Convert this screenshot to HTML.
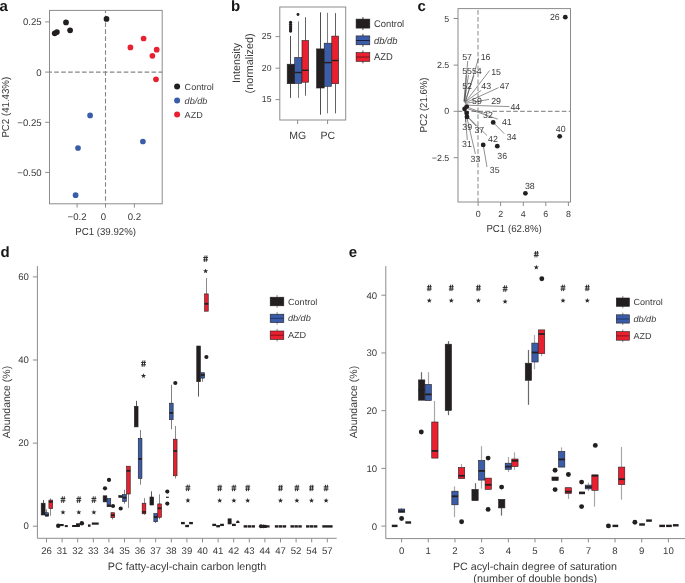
<!DOCTYPE html>
<html><head><meta charset="utf-8"><title>Figure</title>
<style>
html,body{margin:0;padding:0;background:#fff;}
body{width:685px;height:583px;overflow:hidden;}
svg{display:block;font-family:"Liberation Sans",sans-serif;will-change:transform;text-rendering:geometricPrecision;}
</style></head><body>
<svg width="685" height="583" viewBox="0 0 685 583">
<rect width="685" height="583" fill="#fff"/>
<text x="-0.6" y="10.8" font-size="15" text-anchor="start" fill="#161616" font-weight="bold">a</text>
<rect x="49.5" y="10.4" width="112.7" height="193.4" fill="none" stroke="#8c8c8c" stroke-width="1"/>
<line x1="105.5" y1="10.4" x2="105.5" y2="203.8" stroke="#858585" stroke-width="1.1" stroke-dasharray="4.6,2.35" stroke-dashoffset="1.88"/>
<line x1="49.5" y1="72.1" x2="162.2" y2="72.1" stroke="#858585" stroke-width="1.1" stroke-dasharray="4.6,2.35" stroke-dashoffset="2.2"/>
<line x1="45.2" y1="21.9" x2="49.5" y2="21.9" stroke="#8c8c8c" stroke-width="1"/>
<text x="41.6" y="25.3" font-size="9.6" text-anchor="end" fill="#3a3a3a">0.25</text>
<line x1="45.2" y1="72.1" x2="49.5" y2="72.1" stroke="#8c8c8c" stroke-width="1"/>
<text x="41.6" y="75.5" font-size="9.6" text-anchor="end" fill="#3a3a3a">0</text>
<line x1="45.2" y1="122.3" x2="49.5" y2="122.3" stroke="#8c8c8c" stroke-width="1"/>
<text x="41.6" y="125.7" font-size="9.6" text-anchor="end" fill="#3a3a3a">−0.25</text>
<line x1="45.2" y1="172.4" x2="49.5" y2="172.4" stroke="#8c8c8c" stroke-width="1"/>
<text x="41.6" y="175.8" font-size="9.6" text-anchor="end" fill="#3a3a3a">−0.50</text>
<line x1="77.1" y1="203.8" x2="77.1" y2="207.6" stroke="#8c8c8c" stroke-width="1"/>
<text x="77.1" y="220.1" font-size="9.6" text-anchor="middle" fill="#3a3a3a">−0.2</text>
<line x1="105.5" y1="203.8" x2="105.5" y2="207.6" stroke="#8c8c8c" stroke-width="1"/>
<text x="103.5" y="220.1" font-size="9.6" text-anchor="middle" fill="#3a3a3a">0</text>
<line x1="134.4" y1="203.8" x2="134.4" y2="207.6" stroke="#8c8c8c" stroke-width="1"/>
<text x="134.4" y="220.1" font-size="9.6" text-anchor="middle" fill="#3a3a3a">0.2</text>
<text x="0" y="0" font-size="10.2" text-anchor="middle" fill="#3a3a3a" transform="translate(105.6 235) scale(0.95 1)">PC1 (39.92%)</text>
<text x="0" y="0" font-size="10.2" text-anchor="middle" fill="#3a3a3a" transform="translate(8.6 107.2) rotate(-90) scale(0.95 1)">PC2 (41.43%)</text>
<circle cx="54.7" cy="33.3" r="2.85" fill="#231f20"/>
<circle cx="56.9" cy="32.1" r="2.85" fill="#231f20"/>
<circle cx="66" cy="22.4" r="2.85" fill="#231f20"/>
<circle cx="70.1" cy="30.3" r="2.85" fill="#231f20"/>
<circle cx="106.5" cy="18.9" r="2.85" fill="#231f20"/>
<circle cx="130.4" cy="47.4" r="2.85" fill="#e8202f"/>
<circle cx="143.6" cy="38.5" r="2.85" fill="#e8202f"/>
<circle cx="156.7" cy="49.7" r="2.85" fill="#e8202f"/>
<circle cx="152.4" cy="55.8" r="2.85" fill="#e8202f"/>
<circle cx="156" cy="79.3" r="2.85" fill="#e8202f"/>
<circle cx="90.1" cy="115.4" r="2.85" fill="#3b5ca8"/>
<circle cx="78" cy="148" r="2.85" fill="#3b5ca8"/>
<circle cx="75.6" cy="195.2" r="2.85" fill="#3b5ca8"/>
<circle cx="142.9" cy="141.5" r="2.85" fill="#3b5ca8"/>
<circle cx="177.1" cy="86.4" r="3" fill="#231f20"/>
<text x="0" y="0" font-size="8.9" text-anchor="start" fill="#3a3a3a" transform="translate(184.6 89.5) scale(1.02 1)">Control</text>
<circle cx="177.1" cy="100.5" r="3" fill="#3b5ca8"/>
<text x="0" y="0" font-size="8.9" text-anchor="start" fill="#3a3a3a" font-style="italic" transform="translate(184.6 103.6) scale(1.02 1)">db/db</text>
<circle cx="177.1" cy="114.6" r="3" fill="#e8202f"/>
<text x="0" y="0" font-size="8.9" text-anchor="start" fill="#3a3a3a" transform="translate(184.6 117.7) scale(1.02 1)">AZD</text>
<text x="231" y="10.8" font-size="15" text-anchor="start" fill="#161616" font-weight="bold">b</text>
<rect x="279.8" y="7" width="65.9" height="113" fill="none" stroke="#8c8c8c" stroke-width="1"/>
<line x1="275.6" y1="36.6" x2="279.8" y2="36.6" stroke="#8c8c8c" stroke-width="1"/>
<text x="271.5" y="39.2" font-size="8.7" text-anchor="end" fill="#3a3a3a">25</text>
<line x1="275.6" y1="68.2" x2="279.8" y2="68.2" stroke="#8c8c8c" stroke-width="1"/>
<text x="271.5" y="70.8" font-size="8.7" text-anchor="end" fill="#3a3a3a">20</text>
<line x1="275.6" y1="99.6" x2="279.8" y2="99.6" stroke="#8c8c8c" stroke-width="1"/>
<text x="271.5" y="102.2" font-size="8.7" text-anchor="end" fill="#3a3a3a">15</text>
<line x1="297.6" y1="120" x2="297.6" y2="124" stroke="#8c8c8c" stroke-width="1"/>
<text x="297.8" y="138.7" font-size="10.5" text-anchor="middle" fill="#3a3a3a">MG</text>
<line x1="327.6" y1="120" x2="327.6" y2="124" stroke="#8c8c8c" stroke-width="1"/>
<text x="327.8" y="138.7" font-size="10.5" text-anchor="middle" fill="#3a3a3a">PC</text>
<text x="240.4" y="63" font-size="10.8" text-anchor="middle" fill="#3a3a3a" transform="rotate(-90 240.4 63)">Intensity</text>
<text x="252.8" y="63.4" font-size="10.8" text-anchor="middle" fill="#3a3a3a" transform="rotate(-90 252.8 63.4)">(normalized)</text>
<line x1="290.5" y1="35.9" x2="290.5" y2="64.2" stroke="#3a3a3a" stroke-width="0.9"/>
<line x1="290.5" y1="83.7" x2="290.5" y2="97.9" stroke="#3a3a3a" stroke-width="0.9"/>
<rect x="287.2" y="64.2" width="7.6" height="19.5" fill="#231f20" stroke="#231f20" stroke-width="0.6"/>
<circle cx="290.6" cy="22.4" r="1.65" fill="#231f20"/>
<circle cx="290.6" cy="24.6" r="1.65" fill="#231f20"/>
<circle cx="290.6" cy="26.8" r="1.65" fill="#231f20"/>
<circle cx="290.6" cy="29" r="1.65" fill="#231f20"/>
<circle cx="290.6" cy="31" r="1.65" fill="#231f20"/>
<line x1="298.5" y1="21.4" x2="298.5" y2="57.4" stroke="#6e6e6e" stroke-width="0.9"/>
<line x1="298.5" y1="83.4" x2="298.5" y2="97.9" stroke="#6e6e6e" stroke-width="0.9"/>
<rect x="294.7" y="57.4" width="7" height="26" fill="#3b5ca8" stroke="#231f20" stroke-width="0.6"/>
<line x1="294.7" y1="72.5" x2="301.7" y2="72.5" stroke="#231f20" stroke-width="1.4"/>
<circle cx="298" cy="14.5" r="1.45" fill="#231f20"/>
<line x1="305.5" y1="17.2" x2="305.5" y2="40.5" stroke="#505050" stroke-width="0.9"/>
<line x1="305.5" y1="82.2" x2="305.5" y2="95.7" stroke="#505050" stroke-width="0.9"/>
<rect x="302" y="40.5" width="6.6" height="41.7" fill="#e8202f" stroke="#231f20" stroke-width="0.6"/>
<line x1="302" y1="70.3" x2="308.6" y2="70.3" stroke="#231f20" stroke-width="1.4"/>
<line x1="320.5" y1="12.3" x2="320.5" y2="48.9" stroke="#3a3a3a" stroke-width="0.9"/>
<line x1="320.5" y1="88" x2="320.5" y2="114.7" stroke="#3a3a3a" stroke-width="0.9"/>
<rect x="316.6" y="48.9" width="7.6" height="39.1" fill="#231f20" stroke="#231f20" stroke-width="0.6"/>
<line x1="327.5" y1="12.8" x2="327.5" y2="43.2" stroke="#6e6e6e" stroke-width="0.9"/>
<line x1="327.5" y1="86.3" x2="327.5" y2="113.4" stroke="#6e6e6e" stroke-width="0.9"/>
<rect x="324.2" y="43.2" width="7.2" height="43.1" fill="#3b5ca8" stroke="#231f20" stroke-width="0.6"/>
<line x1="324.2" y1="62.6" x2="331.4" y2="62.6" stroke="#231f20" stroke-width="1.4"/>
<line x1="335.5" y1="13.1" x2="335.5" y2="36.1" stroke="#505050" stroke-width="0.9"/>
<line x1="335.5" y1="83.7" x2="335.5" y2="113.4" stroke="#505050" stroke-width="0.9"/>
<rect x="331.8" y="36.1" width="6.8" height="47.6" fill="#e8202f" stroke="#231f20" stroke-width="0.6"/>
<line x1="331.8" y1="60.5" x2="338.6" y2="60.5" stroke="#231f20" stroke-width="1.4"/>
<line x1="362.9" y1="17" x2="362.9" y2="30" stroke="#333" stroke-width="0.9"/>
<rect x="356.1" y="19.1" width="13.7" height="9" fill="#231f20" stroke="#231f20" stroke-width="0.6"/>
<text x="0" y="0" font-size="9.7" text-anchor="start" fill="#3a3a3a" transform="translate(373.9 27) scale(0.97 1)">Control</text>
<line x1="362.9" y1="33.8" x2="362.9" y2="46.7" stroke="#333" stroke-width="0.9"/>
<rect x="356.1" y="35.9" width="13.7" height="8.9" fill="#3b5ca8" stroke="#231f20" stroke-width="0.6"/>
<line x1="356.1" y1="40.5" x2="369.8" y2="40.5" stroke="#17213d" stroke-width="1"/>
<text x="0" y="0" font-size="9.7" text-anchor="start" fill="#3a3a3a" font-style="italic" transform="translate(373.9 43.75) scale(0.97 1)">db/db</text>
<line x1="362.9" y1="50.5" x2="362.9" y2="63.3" stroke="#333" stroke-width="0.9"/>
<rect x="356.1" y="52.6" width="13.7" height="8.8" fill="#e8202f" stroke="#231f20" stroke-width="0.6"/>
<line x1="356.1" y1="57" x2="369.8" y2="57" stroke="#74141c" stroke-width="1"/>
<text x="0" y="0" font-size="9.7" text-anchor="start" fill="#3a3a3a" transform="translate(373.9 60.4) scale(0.97 1)">AZD</text>
<text x="417.6" y="10.9" font-size="15" text-anchor="start" fill="#161616" font-weight="bold">c</text>
<rect x="458" y="8.6" width="112.5" height="193.4" fill="none" stroke="#8c8c8c" stroke-width="1"/>
<line x1="478" y1="8.6" x2="478" y2="202" stroke="#939393" stroke-width="1.1" stroke-dasharray="4.6,2.35" stroke-dashoffset="5.45"/>
<line x1="458" y1="111.4" x2="570.5" y2="111.4" stroke="#939393" stroke-width="1.1" stroke-dasharray="4.6,2.35" stroke-dashoffset="0.4"/>
<line x1="453.6" y1="18.5" x2="458" y2="18.5" stroke="#8c8c8c" stroke-width="1"/>
<text x="449.3" y="21.5" font-size="8.9" text-anchor="end" fill="#3a3a3a">5</text>
<line x1="453.6" y1="65.1" x2="458" y2="65.1" stroke="#8c8c8c" stroke-width="1"/>
<text x="449.3" y="68.1" font-size="8.9" text-anchor="end" fill="#3a3a3a">2.5</text>
<line x1="453.6" y1="111.3" x2="458" y2="111.3" stroke="#8c8c8c" stroke-width="1"/>
<text x="449.3" y="114.3" font-size="8.9" text-anchor="end" fill="#3a3a3a">0</text>
<line x1="453.6" y1="157.7" x2="458" y2="157.7" stroke="#8c8c8c" stroke-width="1"/>
<text x="449.3" y="160.7" font-size="8.9" text-anchor="end" fill="#3a3a3a">−2.5</text>
<line x1="478.1" y1="202" x2="478.1" y2="206" stroke="#8c8c8c" stroke-width="1"/>
<text x="478.1" y="216.8" font-size="8.9" text-anchor="middle" fill="#3a3a3a">0</text>
<line x1="500.6" y1="202" x2="500.6" y2="206" stroke="#8c8c8c" stroke-width="1"/>
<text x="500.6" y="216.8" font-size="8.9" text-anchor="middle" fill="#3a3a3a">2</text>
<line x1="523.3" y1="202" x2="523.3" y2="206" stroke="#8c8c8c" stroke-width="1"/>
<text x="523.3" y="216.8" font-size="8.9" text-anchor="middle" fill="#3a3a3a">4</text>
<line x1="545.8" y1="202" x2="545.8" y2="206" stroke="#8c8c8c" stroke-width="1"/>
<text x="545.8" y="216.8" font-size="8.9" text-anchor="middle" fill="#3a3a3a">6</text>
<line x1="568.4" y1="202" x2="568.4" y2="206" stroke="#8c8c8c" stroke-width="1"/>
<text x="568.4" y="216.8" font-size="8.9" text-anchor="middle" fill="#3a3a3a">8</text>
<text x="0" y="0" font-size="10.2" text-anchor="middle" fill="#3a3a3a" transform="translate(514.1 232.3) scale(0.95 1)">PC1 (62.8%)</text>
<text x="0" y="0" font-size="10.2" text-anchor="middle" fill="#3a3a3a" transform="translate(426.9 105) rotate(-90) scale(0.94 1)">PC2 (21.6%)</text>
<line x1="467.7" y1="61" x2="464.6" y2="101.5" stroke="#444" stroke-width="0.6"/>
<line x1="478.6" y1="58" x2="465.6" y2="101.5" stroke="#444" stroke-width="0.6"/>
<line x1="466" y1="75" x2="464" y2="101.5" stroke="#444" stroke-width="0.6"/>
<line x1="468.5" y1="75" x2="464.5" y2="101.5" stroke="#444" stroke-width="0.6"/>
<line x1="474" y1="75.5" x2="465" y2="101.5" stroke="#444" stroke-width="0.6"/>
<line x1="489.6" y1="70.5" x2="465" y2="102.5" stroke="#444" stroke-width="0.6"/>
<line x1="466" y1="90" x2="464" y2="101.5" stroke="#444" stroke-width="0.6"/>
<line x1="481" y1="90.5" x2="464.5" y2="102.5" stroke="#444" stroke-width="0.6"/>
<line x1="498.6" y1="87.6" x2="465" y2="103" stroke="#444" stroke-width="0.6"/>
<line x1="489" y1="99.4" x2="465" y2="103.5" stroke="#444" stroke-width="0.6"/>
<line x1="509.5" y1="106.6" x2="466.5" y2="105.2" stroke="#444" stroke-width="0.6"/>
<line x1="483" y1="113" x2="467" y2="107" stroke="#444" stroke-width="0.6"/>
<line x1="497.8" y1="119.2" x2="467" y2="108.5" stroke="#444" stroke-width="0.6"/>
<line x1="465.8" y1="122" x2="465" y2="111" stroke="#444" stroke-width="0.6"/>
<line x1="476" y1="126" x2="467.5" y2="117" stroke="#444" stroke-width="0.6"/>
<line x1="487" y1="135.5" x2="467.5" y2="116.5" stroke="#444" stroke-width="0.6"/>
<line x1="467.3" y1="140" x2="465.5" y2="118" stroke="#444" stroke-width="0.6"/>
<line x1="475.4" y1="154" x2="467" y2="118" stroke="#444" stroke-width="0.6"/>
<line x1="504.2" y1="133.6" x2="493.2" y2="122.4" stroke="#444" stroke-width="0.6"/>
<line x1="487" y1="167" x2="483.2" y2="144.9" stroke="#444" stroke-width="0.6"/>
<circle cx="565.3" cy="17.2" r="2.4" fill="#231f20"/>
<circle cx="559.7" cy="136.3" r="2.4" fill="#231f20"/>
<circle cx="525.4" cy="193.3" r="2.4" fill="#231f20"/>
<circle cx="493.2" cy="122.4" r="2.4" fill="#231f20"/>
<circle cx="483.2" cy="144.9" r="2.4" fill="#231f20"/>
<circle cx="497.3" cy="146.2" r="2.4" fill="#231f20"/>
<circle cx="466.7" cy="106.6" r="2.4" fill="#231f20"/>
<circle cx="464.6" cy="109" r="2.4" fill="#231f20"/>
<circle cx="466.7" cy="113.1" r="2.4" fill="#231f20"/>
<circle cx="467" cy="116.9" r="2.4" fill="#231f20"/>
<text x="462.2" y="59.7" font-size="8.8" text-anchor="start" fill="#3a3a3a">57</text>
<text x="480.7" y="59.7" font-size="8.8" text-anchor="start" fill="#3a3a3a">16</text>
<text x="462.2" y="74.1" font-size="8.8" text-anchor="start" fill="#3a3a3a">5554</text>
<text x="491.2" y="74.5" font-size="8.8" text-anchor="start" fill="#3a3a3a">15</text>
<text x="462.2" y="89.2" font-size="8.8" text-anchor="start" fill="#3a3a3a">52</text>
<text x="481.3" y="89.2" font-size="8.8" text-anchor="start" fill="#3a3a3a">43</text>
<text x="499.7" y="89.2" font-size="8.8" text-anchor="start" fill="#3a3a3a">47</text>
<text x="472" y="104" font-size="8.8" text-anchor="start" fill="#3a3a3a">59</text>
<text x="491.2" y="104" font-size="8.8" text-anchor="start" fill="#3a3a3a">29</text>
<text x="510.4" y="110.2" font-size="8.8" text-anchor="start" fill="#3a3a3a">44</text>
<text x="483" y="118.4" font-size="8.8" text-anchor="start" fill="#3a3a3a">32</text>
<text x="501.9" y="124.6" font-size="8.8" text-anchor="start" fill="#3a3a3a">41</text>
<text x="462.3" y="130" font-size="8.8" text-anchor="start" fill="#3a3a3a">39</text>
<text x="474.4" y="132.7" font-size="8.8" text-anchor="start" fill="#3a3a3a">37</text>
<text x="488.1" y="142" font-size="8.8" text-anchor="start" fill="#3a3a3a">42</text>
<text x="506.7" y="139.6" font-size="8.8" text-anchor="start" fill="#3a3a3a">34</text>
<text x="462.1" y="147.4" font-size="8.8" text-anchor="start" fill="#3a3a3a">31</text>
<text x="497.3" y="158.8" font-size="8.8" text-anchor="start" fill="#3a3a3a">36</text>
<text x="470.6" y="162.2" font-size="8.8" text-anchor="start" fill="#3a3a3a">33</text>
<text x="489.8" y="173.2" font-size="8.8" text-anchor="start" fill="#3a3a3a">35</text>
<text x="549.9" y="20.4" font-size="8.8" text-anchor="start" fill="#3a3a3a">26</text>
<text x="555.8" y="131.7" font-size="8.8" text-anchor="start" fill="#3a3a3a">40</text>
<text x="524.9" y="188.7" font-size="8.8" text-anchor="start" fill="#3a3a3a">38</text>
<text x="0.5" y="257.1" font-size="15" text-anchor="start" fill="#161616" font-weight="bold">d</text>
<line x1="37.4" y1="266.1" x2="37.4" y2="538.3" stroke="#8c8c8c" stroke-width="1"/>
<line x1="37.4" y1="538.3" x2="336.7" y2="538.3" stroke="#8c8c8c" stroke-width="1"/>
<line x1="32.9" y1="526.2" x2="37.4" y2="526.2" stroke="#8c8c8c" stroke-width="1"/>
<text x="28.8" y="529.1" font-size="9.6" text-anchor="end" fill="#3a3a3a">0</text>
<line x1="32.9" y1="443.1" x2="37.4" y2="443.1" stroke="#8c8c8c" stroke-width="1"/>
<text x="28.8" y="446" font-size="9.6" text-anchor="end" fill="#3a3a3a">20</text>
<line x1="32.9" y1="360" x2="37.4" y2="360" stroke="#8c8c8c" stroke-width="1"/>
<text x="28.8" y="362.9" font-size="9.6" text-anchor="end" fill="#3a3a3a">40</text>
<line x1="32.9" y1="276.9" x2="37.4" y2="276.9" stroke="#8c8c8c" stroke-width="1"/>
<text x="28.8" y="279.8" font-size="9.6" text-anchor="end" fill="#3a3a3a">60</text>
<line x1="46.5" y1="538.3" x2="46.5" y2="542.4" stroke="#8c8c8c" stroke-width="1"/>
<text x="46.5" y="554" font-size="9.6" text-anchor="middle" fill="#3a3a3a">26</text>
<line x1="62.1" y1="538.3" x2="62.1" y2="542.4" stroke="#8c8c8c" stroke-width="1"/>
<text x="62.1" y="554" font-size="9.6" text-anchor="middle" fill="#3a3a3a">31</text>
<line x1="77.7" y1="538.3" x2="77.7" y2="542.4" stroke="#8c8c8c" stroke-width="1"/>
<text x="77.7" y="554" font-size="9.6" text-anchor="middle" fill="#3a3a3a">32</text>
<line x1="93.3" y1="538.3" x2="93.3" y2="542.4" stroke="#8c8c8c" stroke-width="1"/>
<text x="93.3" y="554" font-size="9.6" text-anchor="middle" fill="#3a3a3a">33</text>
<line x1="108.9" y1="538.3" x2="108.9" y2="542.4" stroke="#8c8c8c" stroke-width="1"/>
<text x="108.9" y="554" font-size="9.6" text-anchor="middle" fill="#3a3a3a">34</text>
<line x1="124.5" y1="538.3" x2="124.5" y2="542.4" stroke="#8c8c8c" stroke-width="1"/>
<text x="124.5" y="554" font-size="9.6" text-anchor="middle" fill="#3a3a3a">35</text>
<line x1="140.1" y1="538.3" x2="140.1" y2="542.4" stroke="#8c8c8c" stroke-width="1"/>
<text x="140.1" y="554" font-size="9.6" text-anchor="middle" fill="#3a3a3a">36</text>
<line x1="155.7" y1="538.3" x2="155.7" y2="542.4" stroke="#8c8c8c" stroke-width="1"/>
<text x="155.7" y="554" font-size="9.6" text-anchor="middle" fill="#3a3a3a">37</text>
<line x1="171.3" y1="538.3" x2="171.3" y2="542.4" stroke="#8c8c8c" stroke-width="1"/>
<text x="171.3" y="554" font-size="9.6" text-anchor="middle" fill="#3a3a3a">38</text>
<line x1="186.9" y1="538.3" x2="186.9" y2="542.4" stroke="#8c8c8c" stroke-width="1"/>
<text x="186.9" y="554" font-size="9.6" text-anchor="middle" fill="#3a3a3a">39</text>
<line x1="202.5" y1="538.3" x2="202.5" y2="542.4" stroke="#8c8c8c" stroke-width="1"/>
<text x="202.5" y="554" font-size="9.6" text-anchor="middle" fill="#3a3a3a">40</text>
<line x1="218.1" y1="538.3" x2="218.1" y2="542.4" stroke="#8c8c8c" stroke-width="1"/>
<text x="218.1" y="554" font-size="9.6" text-anchor="middle" fill="#3a3a3a">41</text>
<line x1="233.7" y1="538.3" x2="233.7" y2="542.4" stroke="#8c8c8c" stroke-width="1"/>
<text x="233.7" y="554" font-size="9.6" text-anchor="middle" fill="#3a3a3a">42</text>
<line x1="249.3" y1="538.3" x2="249.3" y2="542.4" stroke="#8c8c8c" stroke-width="1"/>
<text x="249.3" y="554" font-size="9.6" text-anchor="middle" fill="#3a3a3a">43</text>
<line x1="264.9" y1="538.3" x2="264.9" y2="542.4" stroke="#8c8c8c" stroke-width="1"/>
<text x="264.9" y="554" font-size="9.6" text-anchor="middle" fill="#3a3a3a">44</text>
<line x1="280.5" y1="538.3" x2="280.5" y2="542.4" stroke="#8c8c8c" stroke-width="1"/>
<text x="280.5" y="554" font-size="9.6" text-anchor="middle" fill="#3a3a3a">47</text>
<line x1="296.1" y1="538.3" x2="296.1" y2="542.4" stroke="#8c8c8c" stroke-width="1"/>
<text x="296.1" y="554" font-size="9.6" text-anchor="middle" fill="#3a3a3a">52</text>
<line x1="311.7" y1="538.3" x2="311.7" y2="542.4" stroke="#8c8c8c" stroke-width="1"/>
<text x="311.7" y="554" font-size="9.6" text-anchor="middle" fill="#3a3a3a">54</text>
<line x1="327.3" y1="538.3" x2="327.3" y2="542.4" stroke="#8c8c8c" stroke-width="1"/>
<text x="327.3" y="554" font-size="9.6" text-anchor="middle" fill="#3a3a3a">57</text>
<text x="187" y="570.2" font-size="10.75" text-anchor="middle" fill="#3a3a3a">PC fatty-acyl-chain carbon length</text>
<text x="9.6" y="402" font-size="10.5" text-anchor="middle" fill="#3a3a3a" transform="rotate(-90 9.6 402)">Abundance (%)</text>
<line x1="43.5" y1="500.1" x2="43.5" y2="503.2" stroke="#5a5a5a" stroke-width="1"/>
<rect x="41.2" y="503.2" width="3.9" height="11.8" fill="#231f20" stroke="#231f20" stroke-width="0.6"/>
<line x1="46.5" y1="509.3" x2="46.5" y2="512.7" stroke="#828282" stroke-width="1"/>
<rect x="45.25" y="512.7" width="3.4" height="3.5" fill="#3b5ca8" stroke="#231f20" stroke-width="0.6"/>
<line x1="45.25" y1="515.2" x2="48.65" y2="515.2" stroke="#231f20" stroke-width="1.8"/>
<line x1="50.5" y1="498.3" x2="50.5" y2="500.1" stroke="#8a8a8a" stroke-width="1"/>
<line x1="50.5" y1="508.6" x2="50.5" y2="515.8" stroke="#8a8a8a" stroke-width="1"/>
<rect x="48.9" y="500.1" width="3.8" height="8.5" fill="#e8202f" stroke="#231f20" stroke-width="0.6"/>
<line x1="48.9" y1="501.8" x2="52.7" y2="501.8" stroke="#231f20" stroke-width="1.8"/>
<circle cx="58.2" cy="525.8" r="2.2" fill="#231f20"/>
<rect x="58.4" y="524" width="5.3" height="2.1" fill="#231f20"/>
<rect x="64.8" y="525.1" width="3" height="2" fill="#231f20"/>
<rect x="72.1" y="525" width="4.2" height="2" fill="#231f20"/>
<rect x="76" y="523.4" width="3.8" height="3.6" fill="#231f20"/>
<circle cx="78" cy="525.2" r="1.8" fill="#231f20"/>
<circle cx="81.8" cy="523.3" r="2.2" fill="#231f20"/>
<rect x="81.8" y="522.6" width="2.2" height="1.8" fill="#231f20"/>
<rect x="88" y="524.4" width="2.5" height="2.4" fill="#231f20"/>
<rect x="91.8" y="522.5" width="6.9" height="2.2" fill="#231f20"/>
<rect x="103.15" y="495.8" width="3.7" height="6.1" fill="#231f20" stroke="#231f20" stroke-width="0.6"/>
<circle cx="105" cy="488.3" r="2.1" fill="#231f20"/>
<circle cx="109" cy="479.9" r="2.1" fill="#231f20"/>
<rect x="107.05" y="498.6" width="3.7" height="8.1" fill="#3b5ca8" stroke="#231f20" stroke-width="0.6"/>
<line x1="107.05" y1="505.5" x2="110.75" y2="505.5" stroke="#231f20" stroke-width="1.8"/>
<circle cx="113" cy="506" r="2.1" fill="#231f20"/>
<line x1="112.5" y1="517.7" x2="112.5" y2="519.5" stroke="#8a8a8a" stroke-width="1"/>
<rect x="110.95" y="512.7" width="3.7" height="5" fill="#e8202f" stroke="#231f20" stroke-width="0.6"/>
<line x1="110.95" y1="515.2" x2="114.65" y2="515.2" stroke="#231f20" stroke-width="1.8"/>
<rect x="118.75" y="495.5" width="3.7" height="1.9" fill="#231f20" stroke="#231f20" stroke-width="0.6"/>
<circle cx="120.7" cy="508.5" r="2.1" fill="#231f20"/>
<line x1="124.5" y1="489.8" x2="124.5" y2="494.6" stroke="#828282" stroke-width="1"/>
<line x1="124.5" y1="501.5" x2="124.5" y2="503.7" stroke="#828282" stroke-width="1"/>
<rect x="122.65" y="494.6" width="3.7" height="6.9" fill="#3b5ca8" stroke="#231f20" stroke-width="0.6"/>
<line x1="122.65" y1="497.6" x2="126.35" y2="497.6" stroke="#231f20" stroke-width="1.8"/>
<line x1="128.5" y1="494" x2="128.5" y2="507.9" stroke="#8a8a8a" stroke-width="1"/>
<rect x="126.55" y="466.2" width="3.7" height="27.8" fill="#e8202f" stroke="#231f20" stroke-width="0.6"/>
<line x1="126.55" y1="470.8" x2="130.25" y2="470.8" stroke="#231f20" stroke-width="1.8"/>
<line x1="136.5" y1="400.8" x2="136.5" y2="406.3" stroke="#5a5a5a" stroke-width="1"/>
<rect x="134.35" y="406.3" width="3.7" height="20.6" fill="#231f20" stroke="#231f20" stroke-width="0.6"/>
<line x1="140.5" y1="430" x2="140.5" y2="438.3" stroke="#828282" stroke-width="1"/>
<line x1="140.5" y1="478.5" x2="140.5" y2="484.7" stroke="#828282" stroke-width="1"/>
<rect x="138.25" y="438.3" width="3.7" height="40.2" fill="#3b5ca8" stroke="#231f20" stroke-width="0.6"/>
<line x1="138.25" y1="458.9" x2="141.95" y2="458.9" stroke="#231f20" stroke-width="1.8"/>
<line x1="144.5" y1="498.1" x2="144.5" y2="503.2" stroke="#8a8a8a" stroke-width="1"/>
<line x1="144.5" y1="513.8" x2="144.5" y2="514.9" stroke="#8a8a8a" stroke-width="1"/>
<rect x="142.15" y="503.2" width="3.7" height="10.6" fill="#e8202f" stroke="#231f20" stroke-width="0.6"/>
<line x1="142.15" y1="512" x2="145.85" y2="512" stroke="#231f20" stroke-width="1.8"/>
<path d="M142.95 360.4L142.15 366.8 M144.85 360.4L144.05 366.8 M141.05 362.45L145.95 362.45 M141.05 364.75L145.95 364.75" stroke="#262626" stroke-width="0.95" fill="none"/>
<polygon points="143.5,373.2 144.17,374.98 146.07,375.07 144.58,376.25 145.09,378.08 143.5,377.03 141.91,378.08 142.42,376.25 140.93,375.07 142.83,374.98" fill="#2b2b2b"/>
<line x1="151.5" y1="491.3" x2="151.5" y2="497" stroke="#5a5a5a" stroke-width="1"/>
<rect x="149.95" y="497" width="3.7" height="8" fill="#231f20" stroke="#231f20" stroke-width="0.6"/>
<line x1="155.5" y1="521.7" x2="155.5" y2="523.1" stroke="#828282" stroke-width="1"/>
<rect x="153.85" y="513.5" width="3.7" height="8.2" fill="#3b5ca8" stroke="#231f20" stroke-width="0.6"/>
<line x1="153.85" y1="517" x2="157.55" y2="517" stroke="#231f20" stroke-width="1.8"/>
<line x1="159.5" y1="494.3" x2="159.5" y2="503.9" stroke="#8a8a8a" stroke-width="1"/>
<line x1="159.5" y1="517.3" x2="159.5" y2="519.3" stroke="#8a8a8a" stroke-width="1"/>
<rect x="157.75" y="503.9" width="3.7" height="13.4" fill="#e8202f" stroke="#231f20" stroke-width="0.6"/>
<line x1="157.75" y1="508.3" x2="161.45" y2="508.3" stroke="#231f20" stroke-width="1.8"/>
<circle cx="167.3" cy="491.6" r="2.1" fill="#231f20"/>
<circle cx="167.3" cy="503.6" r="2.1" fill="#231f20"/>
<line x1="166" y1="497.3" x2="168.8" y2="497.3" stroke="#231f20" stroke-width="1.2"/>
<line x1="171.5" y1="384.8" x2="171.5" y2="403.2" stroke="#828282" stroke-width="1"/>
<line x1="171.5" y1="419.7" x2="171.5" y2="429.3" stroke="#828282" stroke-width="1"/>
<rect x="169.45" y="403.2" width="3.7" height="16.5" fill="#3b5ca8" stroke="#231f20" stroke-width="0.6"/>
<line x1="169.45" y1="412.9" x2="173.15" y2="412.9" stroke="#231f20" stroke-width="1.8"/>
<circle cx="175.3" cy="383" r="2.1" fill="#231f20"/>
<line x1="175.5" y1="426" x2="175.5" y2="439.2" stroke="#8a8a8a" stroke-width="1"/>
<line x1="175.5" y1="475.8" x2="175.5" y2="478.5" stroke="#8a8a8a" stroke-width="1"/>
<rect x="173.35" y="439.2" width="3.7" height="36.6" fill="#e8202f" stroke="#231f20" stroke-width="0.6"/>
<line x1="173.35" y1="451" x2="177.05" y2="451" stroke="#231f20" stroke-width="1.8"/>
<line x1="181" y1="523.1" x2="184.8" y2="523.1" stroke="#231f20" stroke-width="2.3"/>
<line x1="185.2" y1="526" x2="189" y2="526" stroke="#231f20" stroke-width="2.3"/>
<line x1="189.1" y1="523.1" x2="192.9" y2="523.1" stroke="#231f20" stroke-width="2.3"/>
<path d="M187.35 484.7L186.55 491.1 M189.25 484.7L188.45 491.1 M185.45 486.75L190.35 486.75 M185.45 489.05L190.35 489.05" stroke="#262626" stroke-width="0.95" fill="none"/>
<polygon points="187.9,497.8 188.57,499.58 190.47,499.67 188.98,500.85 189.49,502.68 187.9,501.63 186.31,502.68 186.82,500.85 185.33,499.67 187.23,499.58" fill="#2b2b2b"/>
<line x1="198.5" y1="381.7" x2="198.5" y2="396.6" stroke="#5a5a5a" stroke-width="1"/>
<rect x="196.75" y="346" width="3.7" height="35.7" fill="#231f20" stroke="#231f20" stroke-width="0.6"/>
<circle cx="206.4" cy="357" r="2.1" fill="#231f20"/>
<line x1="202.5" y1="378.1" x2="202.5" y2="381.7" stroke="#828282" stroke-width="1"/>
<rect x="200.85" y="372.7" width="3.7" height="5.4" fill="#3b5ca8" stroke="#231f20" stroke-width="0.6"/>
<line x1="200.85" y1="375" x2="204.55" y2="375" stroke="#231f20" stroke-width="1.8"/>
<line x1="206.5" y1="278" x2="206.5" y2="293.9" stroke="#8a8a8a" stroke-width="1"/>
<rect x="204.55" y="293.9" width="3.7" height="17.3" fill="#e8202f" stroke="#231f20" stroke-width="0.6"/>
<line x1="204.55" y1="303.8" x2="208.25" y2="303.8" stroke="#231f20" stroke-width="1.8"/>
<path d="M205.05 255.5L204.25 261.9 M206.95 255.5L206.15 261.9 M203.15 257.55L208.05 257.55 M203.15 259.85L208.05 259.85" stroke="#262626" stroke-width="0.95" fill="none"/>
<polygon points="205.6,268.4 206.27,270.18 208.17,270.27 206.68,271.45 207.19,273.28 205.6,272.23 204.01,273.28 204.52,271.45 203.03,270.27 204.93,270.18" fill="#2b2b2b"/>
<line x1="212.3" y1="524.9" x2="216.1" y2="524.9" stroke="#231f20" stroke-width="2.3"/>
<line x1="216.2" y1="526.2" x2="220" y2="526.2" stroke="#231f20" stroke-width="2.3"/>
<line x1="220.1" y1="524.9" x2="223.9" y2="524.9" stroke="#231f20" stroke-width="2.3"/>
<rect x="228" y="518.8" width="3.2" height="5.2" fill="#231f20" stroke="#231f20" stroke-width="0.6"/>
<line x1="232" y1="524.9" x2="235.8" y2="524.9" stroke="#231f20" stroke-width="2.3"/>
<circle cx="237.8" cy="521.8" r="1.3" fill="#231f20"/>
<line x1="236" y1="522.3" x2="239.6" y2="522.3" stroke="#231f20" stroke-width="1.2"/>
<line x1="243.65" y1="526.4" x2="247.15" y2="526.4" stroke="#231f20" stroke-width="2.4"/>
<line x1="247.55" y1="526.4" x2="251.05" y2="526.4" stroke="#231f20" stroke-width="2.4"/>
<line x1="251.45" y1="526.4" x2="254.95" y2="526.4" stroke="#231f20" stroke-width="2.4"/>
<line x1="274.85" y1="526.4" x2="278.35" y2="526.4" stroke="#231f20" stroke-width="2.4"/>
<line x1="278.75" y1="526.4" x2="282.25" y2="526.4" stroke="#231f20" stroke-width="2.4"/>
<line x1="282.65" y1="526.4" x2="286.15" y2="526.4" stroke="#231f20" stroke-width="2.4"/>
<line x1="290.45" y1="526.4" x2="293.95" y2="526.4" stroke="#231f20" stroke-width="2.4"/>
<line x1="294.35" y1="526.4" x2="297.85" y2="526.4" stroke="#231f20" stroke-width="2.4"/>
<line x1="298.25" y1="526.4" x2="301.75" y2="526.4" stroke="#231f20" stroke-width="2.4"/>
<line x1="306.05" y1="526.4" x2="309.55" y2="526.4" stroke="#231f20" stroke-width="2.4"/>
<line x1="309.95" y1="526.4" x2="313.45" y2="526.4" stroke="#231f20" stroke-width="2.4"/>
<line x1="313.85" y1="526.4" x2="317.35" y2="526.4" stroke="#231f20" stroke-width="2.4"/>
<line x1="322.3" y1="526.4" x2="332.6" y2="526.4" stroke="#231f20" stroke-width="2.4"/>
<circle cx="260.9" cy="526.2" r="2" fill="#231f20"/>
<circle cx="263.6" cy="526.4" r="1.8" fill="#231f20"/>
<circle cx="265.6" cy="526.4" r="1.6" fill="#231f20"/>
<line x1="260" y1="526.4" x2="269.6" y2="526.4" stroke="#231f20" stroke-width="2.2"/>
<path d="M62.45 496.4L61.65 502.8 M64.35 496.4L63.55 502.8 M60.55 498.45L65.45 498.45 M60.55 500.75L65.45 500.75" stroke="#262626" stroke-width="0.95" fill="none"/>
<polygon points="63,509.7 63.67,511.48 65.57,511.57 64.08,512.75 64.59,514.58 63,513.53 61.41,514.58 61.92,512.75 60.43,511.57 62.33,511.48" fill="#2b2b2b"/>
<path d="M78.25 496.4L77.45 502.8 M80.15 496.4L79.35 502.8 M76.35 498.45L81.25 498.45 M76.35 500.75L81.25 500.75" stroke="#262626" stroke-width="0.95" fill="none"/>
<polygon points="78.8,509.7 79.47,511.48 81.37,511.57 79.88,512.75 80.39,514.58 78.8,513.53 77.21,514.58 77.72,512.75 76.23,511.57 78.13,511.48" fill="#2b2b2b"/>
<path d="M93.35 496.4L92.55 502.8 M95.25 496.4L94.45 502.8 M91.45 498.45L96.35 498.45 M91.45 500.75L96.35 500.75" stroke="#262626" stroke-width="0.95" fill="none"/>
<polygon points="93.9,509.7 94.57,511.48 96.47,511.57 94.98,512.75 95.49,514.58 93.9,513.53 92.31,514.58 92.82,512.75 91.33,511.57 93.23,511.48" fill="#2b2b2b"/>
<path d="M219.15 484.8L218.35 491.2 M221.05 484.8L220.25 491.2 M217.25 486.85L222.15 486.85 M217.25 489.15L222.15 489.15" stroke="#262626" stroke-width="0.95" fill="none"/>
<polygon points="219.7,497.9 220.37,499.68 222.27,499.77 220.78,500.95 221.29,502.78 219.7,501.73 218.11,502.78 218.62,500.95 217.13,499.77 219.03,499.68" fill="#2b2b2b"/>
<path d="M233.35 484.8L232.55 491.2 M235.25 484.8L234.45 491.2 M231.45 486.85L236.35 486.85 M231.45 489.15L236.35 489.15" stroke="#262626" stroke-width="0.95" fill="none"/>
<polygon points="233.9,497.9 234.57,499.68 236.47,499.77 234.98,500.95 235.49,502.78 233.9,501.73 232.31,502.78 232.82,500.95 231.33,499.77 233.23,499.68" fill="#2b2b2b"/>
<path d="M247.15 484.8L246.35 491.2 M249.05 484.8L248.25 491.2 M245.25 486.85L250.15 486.85 M245.25 489.15L250.15 489.15" stroke="#262626" stroke-width="0.95" fill="none"/>
<polygon points="247.7,497.9 248.37,499.68 250.27,499.77 248.78,500.95 249.29,502.78 247.7,501.73 246.11,502.78 246.62,500.95 245.13,499.77 247.03,499.68" fill="#2b2b2b"/>
<path d="M279.95 484.8L279.15 491.2 M281.85 484.8L281.05 491.2 M278.05 486.85L282.95 486.85 M278.05 489.15L282.95 489.15" stroke="#262626" stroke-width="0.95" fill="none"/>
<polygon points="280.5,497.9 281.17,499.68 283.07,499.77 281.58,500.95 282.09,502.78 280.5,501.73 278.91,502.78 279.42,500.95 277.93,499.77 279.83,499.68" fill="#2b2b2b"/>
<path d="M296.35 484.8L295.55 491.2 M298.25 484.8L297.45 491.2 M294.45 486.85L299.35 486.85 M294.45 489.15L299.35 489.15" stroke="#262626" stroke-width="0.95" fill="none"/>
<polygon points="296.9,497.9 297.57,499.68 299.47,499.77 297.98,500.95 298.49,502.78 296.9,501.73 295.31,502.78 295.82,500.95 294.33,499.77 296.23,499.68" fill="#2b2b2b"/>
<path d="M310.95 484.8L310.15 491.2 M312.85 484.8L312.05 491.2 M309.05 486.85L313.95 486.85 M309.05 489.15L313.95 489.15" stroke="#262626" stroke-width="0.95" fill="none"/>
<polygon points="311.5,497.9 312.17,499.68 314.07,499.77 312.58,500.95 313.09,502.78 311.5,501.73 309.91,502.78 310.42,500.95 308.93,499.77 310.83,499.68" fill="#2b2b2b"/>
<path d="M325.55 484.8L324.75 491.2 M327.45 484.8L326.65 491.2 M323.65 486.85L328.55 486.85 M323.65 489.15L328.55 489.15" stroke="#262626" stroke-width="0.95" fill="none"/>
<polygon points="326.1,497.9 326.77,499.68 328.67,499.77 327.18,500.95 327.69,502.78 326.1,501.73 324.51,502.78 325.02,500.95 323.53,499.77 325.43,499.68" fill="#2b2b2b"/>
<line x1="277.1" y1="295.1" x2="277.1" y2="307.7" stroke="#555" stroke-width="0.7"/>
<rect x="270.2" y="297.2" width="13.6" height="8.6" fill="#231f20" stroke="#231f20" stroke-width="0.6"/>
<text x="0" y="0" font-size="8.8" text-anchor="start" fill="#3a3a3a" transform="translate(287.9 304.5) scale(1.04 1)">Control</text>
<line x1="277.1" y1="312.1" x2="277.1" y2="324.5" stroke="#555" stroke-width="0.7"/>
<rect x="270.2" y="314.2" width="13.6" height="8.4" fill="#3b5ca8" stroke="#231f20" stroke-width="0.6"/>
<line x1="270.2" y1="318.4" x2="283.8" y2="318.4" stroke="#1f3363" stroke-width="0.9"/>
<text x="0" y="0" font-size="8.8" text-anchor="start" fill="#3a3a3a" font-style="italic" transform="translate(287.9 321.4) scale(1.04 1)">db/db</text>
<line x1="277.1" y1="328.9" x2="277.1" y2="341.4" stroke="#555" stroke-width="0.7"/>
<rect x="270.2" y="331" width="13.6" height="8.5" fill="#e8202f" stroke="#231f20" stroke-width="0.6"/>
<line x1="270.2" y1="335.2" x2="283.8" y2="335.2" stroke="#7d1018" stroke-width="0.9"/>
<text x="0" y="0" font-size="8.8" text-anchor="start" fill="#3a3a3a" transform="translate(287.9 338.25) scale(1.04 1)">AZD</text>
<text x="348.8" y="257.2" font-size="15" text-anchor="start" fill="#161616" font-weight="bold">e</text>
<line x1="385.8" y1="266.1" x2="385.8" y2="538.6" stroke="#8c8c8c" stroke-width="1"/>
<line x1="385.8" y1="538.6" x2="685" y2="538.6" stroke="#8c8c8c" stroke-width="1"/>
<line x1="381.4" y1="526.1" x2="385.8" y2="526.1" stroke="#8c8c8c" stroke-width="1"/>
<text x="377.2" y="529.5" font-size="9.6" text-anchor="end" fill="#3a3a3a">0</text>
<line x1="381.4" y1="468.38" x2="385.8" y2="468.38" stroke="#8c8c8c" stroke-width="1"/>
<text x="377.2" y="471.78" font-size="9.6" text-anchor="end" fill="#3a3a3a">10</text>
<line x1="381.4" y1="410.66" x2="385.8" y2="410.66" stroke="#8c8c8c" stroke-width="1"/>
<text x="377.2" y="414.06" font-size="9.6" text-anchor="end" fill="#3a3a3a">20</text>
<line x1="381.4" y1="352.94" x2="385.8" y2="352.94" stroke="#8c8c8c" stroke-width="1"/>
<text x="377.2" y="356.34" font-size="9.6" text-anchor="end" fill="#3a3a3a">30</text>
<line x1="381.4" y1="295.22" x2="385.8" y2="295.22" stroke="#8c8c8c" stroke-width="1"/>
<text x="377.2" y="298.62" font-size="9.6" text-anchor="end" fill="#3a3a3a">40</text>
<line x1="401.6" y1="538.6" x2="401.6" y2="542.4" stroke="#8c8c8c" stroke-width="1"/>
<text x="401.6" y="554" font-size="9.6" text-anchor="middle" fill="#3a3a3a">0</text>
<line x1="428.28" y1="538.6" x2="428.28" y2="542.4" stroke="#8c8c8c" stroke-width="1"/>
<text x="428.28" y="554" font-size="9.6" text-anchor="middle" fill="#3a3a3a">1</text>
<line x1="454.96" y1="538.6" x2="454.96" y2="542.4" stroke="#8c8c8c" stroke-width="1"/>
<text x="454.96" y="554" font-size="9.6" text-anchor="middle" fill="#3a3a3a">2</text>
<line x1="481.64" y1="538.6" x2="481.64" y2="542.4" stroke="#8c8c8c" stroke-width="1"/>
<text x="481.64" y="554" font-size="9.6" text-anchor="middle" fill="#3a3a3a">3</text>
<line x1="508.32" y1="538.6" x2="508.32" y2="542.4" stroke="#8c8c8c" stroke-width="1"/>
<text x="508.32" y="554" font-size="9.6" text-anchor="middle" fill="#3a3a3a">4</text>
<line x1="535" y1="538.6" x2="535" y2="542.4" stroke="#8c8c8c" stroke-width="1"/>
<text x="535" y="554" font-size="9.6" text-anchor="middle" fill="#3a3a3a">5</text>
<line x1="561.68" y1="538.6" x2="561.68" y2="542.4" stroke="#8c8c8c" stroke-width="1"/>
<text x="561.68" y="554" font-size="9.6" text-anchor="middle" fill="#3a3a3a">6</text>
<line x1="588.36" y1="538.6" x2="588.36" y2="542.4" stroke="#8c8c8c" stroke-width="1"/>
<text x="588.36" y="554" font-size="9.6" text-anchor="middle" fill="#3a3a3a">7</text>
<line x1="615.04" y1="538.6" x2="615.04" y2="542.4" stroke="#8c8c8c" stroke-width="1"/>
<text x="615.04" y="554" font-size="9.6" text-anchor="middle" fill="#3a3a3a">8</text>
<line x1="641.72" y1="538.6" x2="641.72" y2="542.4" stroke="#8c8c8c" stroke-width="1"/>
<text x="641.72" y="554" font-size="9.6" text-anchor="middle" fill="#3a3a3a">9</text>
<line x1="668.4" y1="538.6" x2="668.4" y2="542.4" stroke="#8c8c8c" stroke-width="1"/>
<text x="668.4" y="554" font-size="9.6" text-anchor="middle" fill="#3a3a3a">10</text>
<text x="534.9" y="570.2" font-size="10.7" text-anchor="middle" fill="#3a3a3a">PC acyl-chain degree of saturation</text>
<text x="535.2" y="581.9" font-size="10.8" text-anchor="middle" fill="#3a3a3a">(number of double bonds)</text>
<text x="357.4" y="402" font-size="10.5" text-anchor="middle" fill="#3a3a3a" transform="rotate(-90 357.4 402)">Abundance (%)</text>
<rect x="391.8" y="524.7" width="5.7" height="2.4" fill="#231f20"/>
<line x1="401.5" y1="508" x2="401.5" y2="509" stroke="#a8a8a8" stroke-width="1.2"/>
<rect x="398.45" y="509" width="6.3" height="3.4" fill="#3b5ca8" stroke="#231f20" stroke-width="0.6"/>
<line x1="398.45" y1="511.2" x2="404.75" y2="511.2" stroke="#231f20" stroke-width="1.8"/>
<circle cx="401.6" cy="518.5" r="2.45" fill="#231f20"/>
<rect x="405.4" y="521.3" width="5.7" height="2.4" fill="#231f20"/>
<line x1="421.5" y1="372.2" x2="421.5" y2="379.9" stroke="#6a6a6a" stroke-width="1.2"/>
<rect x="418.53" y="379.9" width="6.3" height="20.3" fill="#231f20" stroke="#231f20" stroke-width="0.6"/>
<line x1="418.53" y1="390" x2="424.83" y2="390" stroke="#231f20" stroke-width="1.8"/>
<circle cx="421.3" cy="432" r="2.45" fill="#231f20"/>
<line x1="428.5" y1="372.2" x2="428.5" y2="384.4" stroke="#a8a8a8" stroke-width="1.2"/>
<rect x="425.13" y="384.4" width="6.3" height="16.2" fill="#3b5ca8" stroke="#231f20" stroke-width="0.6"/>
<line x1="425.13" y1="394.4" x2="431.43" y2="394.4" stroke="#231f20" stroke-width="1.8"/>
<line x1="434.5" y1="400.9" x2="434.5" y2="422" stroke="#a8a8a8" stroke-width="1.2"/>
<rect x="431.73" y="422" width="6.3" height="36.1" fill="#e8202f" stroke="#231f20" stroke-width="0.6"/>
<line x1="431.73" y1="450.9" x2="438.03" y2="450.9" stroke="#231f20" stroke-width="1.8"/>
<line x1="448.5" y1="341.1" x2="448.5" y2="344.2" stroke="#6a6a6a" stroke-width="1.2"/>
<line x1="448.5" y1="410.5" x2="448.5" y2="415.2" stroke="#6a6a6a" stroke-width="1.2"/>
<rect x="445.21" y="344.2" width="6.3" height="66.3" fill="#231f20" stroke="#231f20" stroke-width="0.6"/>
<line x1="454.5" y1="486.4" x2="454.5" y2="491.2" stroke="#a8a8a8" stroke-width="1.2"/>
<line x1="454.5" y1="504.8" x2="454.5" y2="517" stroke="#a8a8a8" stroke-width="1.2"/>
<rect x="451.81" y="491.2" width="6.3" height="13.6" fill="#3b5ca8" stroke="#231f20" stroke-width="0.6"/>
<line x1="451.81" y1="496.3" x2="458.11" y2="496.3" stroke="#231f20" stroke-width="1.8"/>
<line x1="461.5" y1="464" x2="461.5" y2="467.5" stroke="#a8a8a8" stroke-width="1.2"/>
<rect x="458.41" y="467.5" width="6.3" height="11.1" fill="#e8202f" stroke="#231f20" stroke-width="0.6"/>
<line x1="458.41" y1="475.8" x2="464.71" y2="475.8" stroke="#231f20" stroke-width="1.8"/>
<circle cx="461.6" cy="521.7" r="2.45" fill="#231f20"/>
<line x1="475.5" y1="483.2" x2="475.5" y2="489.4" stroke="#6a6a6a" stroke-width="1.2"/>
<rect x="471.89" y="489.4" width="6.3" height="11.2" fill="#231f20" stroke="#231f20" stroke-width="0.6"/>
<line x1="481.5" y1="446.2" x2="481.5" y2="460.4" stroke="#a8a8a8" stroke-width="1.2"/>
<line x1="481.5" y1="480.1" x2="481.5" y2="488.6" stroke="#a8a8a8" stroke-width="1.2"/>
<rect x="478.49" y="460.4" width="6.3" height="19.7" fill="#3b5ca8" stroke="#231f20" stroke-width="0.6"/>
<line x1="478.49" y1="470.9" x2="484.79" y2="470.9" stroke="#231f20" stroke-width="1.8"/>
<rect x="485.09" y="478.1" width="6.3" height="11.3" fill="#e8202f" stroke="#231f20" stroke-width="0.6"/>
<line x1="485.09" y1="484.8" x2="491.39" y2="484.8" stroke="#231f20" stroke-width="1.8"/>
<circle cx="488.1" cy="458.1" r="2.45" fill="#231f20"/>
<circle cx="488.1" cy="509.4" r="2.45" fill="#231f20"/>
<line x1="501.5" y1="507.9" x2="501.5" y2="515.6" stroke="#6a6a6a" stroke-width="1.2"/>
<rect x="498.57" y="499.4" width="6.3" height="8.5" fill="#231f20" stroke="#231f20" stroke-width="0.6"/>
<circle cx="501.6" cy="487.1" r="2.45" fill="#231f20"/>
<line x1="508.5" y1="457" x2="508.5" y2="463.2" stroke="#a8a8a8" stroke-width="1.2"/>
<line x1="508.5" y1="469.3" x2="508.5" y2="472" stroke="#a8a8a8" stroke-width="1.2"/>
<rect x="505.17" y="463.2" width="6.3" height="6.1" fill="#3b5ca8" stroke="#231f20" stroke-width="0.6"/>
<line x1="505.17" y1="466.6" x2="511.47" y2="466.6" stroke="#231f20" stroke-width="1.8"/>
<line x1="514.5" y1="452.4" x2="514.5" y2="459" stroke="#a8a8a8" stroke-width="1.2"/>
<line x1="514.5" y1="466.6" x2="514.5" y2="469.8" stroke="#a8a8a8" stroke-width="1.2"/>
<rect x="511.77" y="459" width="6.3" height="7.6" fill="#e8202f" stroke="#231f20" stroke-width="0.6"/>
<line x1="511.77" y1="460.8" x2="518.07" y2="460.8" stroke="#231f20" stroke-width="1.8"/>
<line x1="528.5" y1="350" x2="528.5" y2="363.2" stroke="#6a6a6a" stroke-width="1.2"/>
<line x1="528.5" y1="380.3" x2="528.5" y2="404.8" stroke="#6a6a6a" stroke-width="1.2"/>
<rect x="525.25" y="363.2" width="6.3" height="17.1" fill="#231f20" stroke="#231f20" stroke-width="0.6"/>
<line x1="534.5" y1="335.1" x2="534.5" y2="343.1" stroke="#a8a8a8" stroke-width="1.2"/>
<line x1="534.5" y1="362" x2="534.5" y2="369.3" stroke="#a8a8a8" stroke-width="1.2"/>
<rect x="531.85" y="343.1" width="6.3" height="18.9" fill="#3b5ca8" stroke="#231f20" stroke-width="0.6"/>
<line x1="531.85" y1="352.5" x2="538.15" y2="352.5" stroke="#231f20" stroke-width="1.8"/>
<line x1="541.5" y1="353.7" x2="541.5" y2="356.3" stroke="#a8a8a8" stroke-width="1.2"/>
<rect x="538.45" y="329.9" width="6.3" height="23.8" fill="#e8202f" stroke="#231f20" stroke-width="0.6"/>
<line x1="538.45" y1="334" x2="544.75" y2="334" stroke="#231f20" stroke-width="1.8"/>
<circle cx="541.8" cy="278.7" r="2.45" fill="#231f20"/>
<rect x="551.93" y="477" width="6.3" height="3.5" fill="#231f20" stroke="#231f20" stroke-width="0.6"/>
<circle cx="555.1" cy="470.2" r="2.45" fill="#231f20"/>
<circle cx="555.1" cy="489.6" r="2.45" fill="#231f20"/>
<line x1="561.5" y1="447.4" x2="561.5" y2="451.4" stroke="#a8a8a8" stroke-width="1.2"/>
<rect x="558.53" y="451.4" width="6.3" height="15.7" fill="#3b5ca8" stroke="#231f20" stroke-width="0.6"/>
<line x1="558.53" y1="459.4" x2="564.83" y2="459.4" stroke="#231f20" stroke-width="1.8"/>
<line x1="568.5" y1="493.4" x2="568.5" y2="498.9" stroke="#a8a8a8" stroke-width="1.2"/>
<rect x="565.13" y="487.7" width="6.3" height="5.7" fill="#e8202f" stroke="#231f20" stroke-width="0.6"/>
<line x1="565.13" y1="491.7" x2="571.43" y2="491.7" stroke="#231f20" stroke-width="1.8"/>
<circle cx="568.4" cy="474.5" r="2.45" fill="#231f20"/>
<rect x="579" y="491.6" width="6" height="2.6" fill="#231f20"/>
<circle cx="581.6" cy="482.1" r="2.45" fill="#231f20"/>
<circle cx="581.6" cy="506.6" r="2.45" fill="#231f20"/>
<line x1="588.5" y1="482.6" x2="588.5" y2="485.1" stroke="#a8a8a8" stroke-width="1.2"/>
<line x1="588.5" y1="488.9" x2="588.5" y2="491.1" stroke="#a8a8a8" stroke-width="1.2"/>
<rect x="585.21" y="485.1" width="6.3" height="3.8" fill="#3b5ca8" stroke="#231f20" stroke-width="0.6"/>
<line x1="585.21" y1="487" x2="591.51" y2="487" stroke="#231f20" stroke-width="1.8"/>
<line x1="594.5" y1="490.3" x2="594.5" y2="506.6" stroke="#a8a8a8" stroke-width="1.2"/>
<rect x="591.81" y="474.9" width="6.3" height="15.4" fill="#e8202f" stroke="#231f20" stroke-width="0.6"/>
<line x1="591.81" y1="475.7" x2="598.11" y2="475.7" stroke="#231f20" stroke-width="1.8"/>
<circle cx="595.3" cy="445.4" r="2.45" fill="#231f20"/>
<circle cx="608.4" cy="525.9" r="2.45" fill="#231f20"/>
<rect x="612.5" y="524.7" width="5.7" height="2.4" fill="#231f20"/>
<line x1="621.5" y1="447" x2="621.5" y2="467.1" stroke="#a8a8a8" stroke-width="1.2"/>
<line x1="621.5" y1="484.6" x2="621.5" y2="499.7" stroke="#a8a8a8" stroke-width="1.2"/>
<rect x="618.49" y="467.1" width="6.3" height="17.5" fill="#e8202f" stroke="#231f20" stroke-width="0.6"/>
<line x1="618.49" y1="479.2" x2="624.79" y2="479.2" stroke="#231f20" stroke-width="1.8"/>
<circle cx="634.9" cy="522.2" r="2.45" fill="#231f20"/>
<rect x="639.2" y="523.3" width="5.7" height="2.4" fill="#231f20"/>
<rect x="646.15" y="519.4" width="5.7" height="2.4" fill="#231f20"/>
<rect x="659.3" y="524.7" width="5.7" height="2.4" fill="#231f20"/>
<rect x="666.1" y="524.7" width="5.7" height="2.4" fill="#231f20"/>
<rect x="672.9" y="524.1" width="5.7" height="2.4" fill="#231f20"/>
<path d="M428.75 284.7L427.95 291.1 M430.65 284.7L429.85 291.1 M426.85 286.75L431.75 286.75 M426.85 289.05L431.75 289.05" stroke="#262626" stroke-width="0.95" fill="none"/>
<polygon points="429.3,297.9 429.97,299.68 431.87,299.77 430.38,300.95 430.89,302.78 429.3,301.73 427.71,302.78 428.22,300.95 426.73,299.77 428.63,299.68" fill="#2b2b2b"/>
<path d="M450.75 284.7L449.95 291.1 M452.65 284.7L451.85 291.1 M448.85 286.75L453.75 286.75 M448.85 289.05L453.75 289.05" stroke="#262626" stroke-width="0.95" fill="none"/>
<polygon points="451.3,297.9 451.97,299.68 453.87,299.77 452.38,300.95 452.89,302.78 451.3,301.73 449.71,302.78 450.22,300.95 448.73,299.77 450.63,299.68" fill="#2b2b2b"/>
<path d="M477.85 284.7L477.05 291.1 M479.75 284.7L478.95 291.1 M475.95 286.75L480.85 286.75 M475.95 289.05L480.85 289.05" stroke="#262626" stroke-width="0.95" fill="none"/>
<polygon points="478.4,297.9 479.07,299.68 480.97,299.77 479.48,300.95 479.99,302.78 478.4,301.73 476.81,302.78 477.32,300.95 475.83,299.77 477.73,299.68" fill="#2b2b2b"/>
<path d="M562.45 284.7L561.65 291.1 M564.35 284.7L563.55 291.1 M560.55 286.75L565.45 286.75 M560.55 289.05L565.45 289.05" stroke="#262626" stroke-width="0.95" fill="none"/>
<polygon points="563,297.9 563.67,299.68 565.57,299.77 564.08,300.95 564.59,302.78 563,301.73 561.41,302.78 561.92,300.95 560.43,299.77 562.33,299.68" fill="#2b2b2b"/>
<path d="M586.75 284.7L585.95 291.1 M588.65 284.7L587.85 291.1 M584.85 286.75L589.75 286.75 M584.85 289.05L589.75 289.05" stroke="#262626" stroke-width="0.95" fill="none"/>
<polygon points="587.3,297.9 587.97,299.68 589.87,299.77 588.38,300.95 588.89,302.78 587.3,301.73 585.71,302.78 586.22,300.95 584.73,299.77 586.63,299.68" fill="#2b2b2b"/>
<path d="M504.55 285.4L503.75 291.8 M506.45 285.4L505.65 291.8 M502.65 287.45L507.55 287.45 M502.65 289.75L507.55 289.75" stroke="#262626" stroke-width="0.95" fill="none"/>
<polygon points="505.1,298.9 505.77,300.68 507.67,300.77 506.18,301.95 506.69,303.78 505.1,302.73 503.51,303.78 504.02,301.95 502.53,300.77 504.43,300.68" fill="#2b2b2b"/>
<path d="M535.75 251L534.95 257.4 M537.65 251L536.85 257.4 M533.85 253.05L538.75 253.05 M533.85 255.35L538.75 255.35" stroke="#262626" stroke-width="0.95" fill="none"/>
<polygon points="536.3,264.7 536.97,266.48 538.87,266.57 537.38,267.75 537.89,269.58 536.3,268.53 534.71,269.58 535.22,267.75 533.73,266.57 535.63,266.48" fill="#2b2b2b"/>
<line x1="622.8" y1="295.9" x2="622.8" y2="308.2" stroke="#555" stroke-width="0.7"/>
<rect x="616.3" y="298" width="13.1" height="8.3" fill="#231f20" stroke="#231f20" stroke-width="0.6"/>
<text x="0" y="0" font-size="8.8" text-anchor="start" fill="#3a3a3a" transform="translate(633.5 305.05) scale(1.03 1)">Control</text>
<line x1="622.8" y1="312.7" x2="622.8" y2="325" stroke="#555" stroke-width="0.7"/>
<rect x="616.3" y="314.8" width="13.1" height="8.3" fill="#3b5ca8" stroke="#231f20" stroke-width="0.6"/>
<line x1="616.3" y1="319" x2="629.4" y2="319" stroke="#1f3363" stroke-width="0.9"/>
<text x="0" y="0" font-size="8.8" text-anchor="start" fill="#3a3a3a" font-style="italic" transform="translate(633.5 321.85) scale(1.03 1)">db/db</text>
<line x1="622.8" y1="329.5" x2="622.8" y2="342.1" stroke="#555" stroke-width="0.7"/>
<rect x="616.3" y="331.6" width="13.1" height="8.6" fill="#e8202f" stroke="#231f20" stroke-width="0.6"/>
<line x1="616.3" y1="335.9" x2="629.4" y2="335.9" stroke="#7d1018" stroke-width="0.9"/>
<text x="0" y="0" font-size="8.8" text-anchor="start" fill="#3a3a3a" transform="translate(633.5 338.8) scale(1.03 1)">AZD</text>
</svg>
</body></html>
